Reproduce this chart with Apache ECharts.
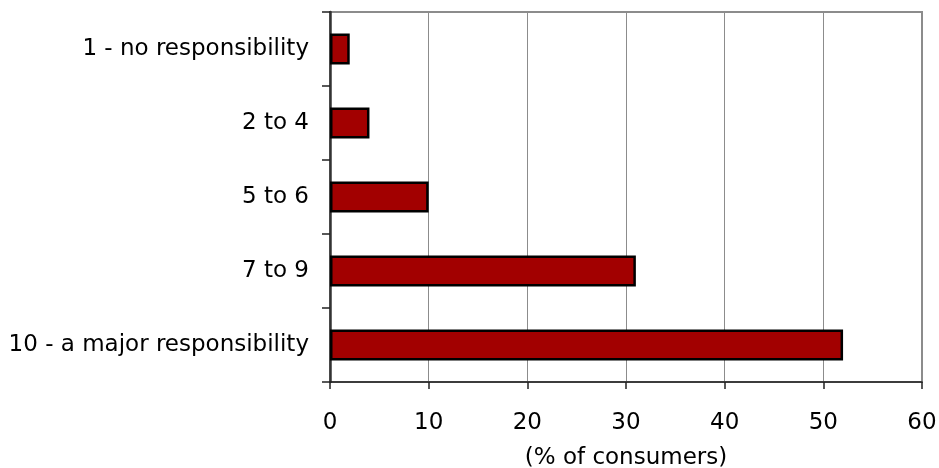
<!DOCTYPE html>
<html>
<head>
<meta charset="utf-8">
<script src="https://cdn.jsdelivr.net/npm/echarts@6/dist/echarts.min.js"></script>
<style>
html,body{margin:0;padding:0;background:#fff;}
#chart{width:939px;height:468px;}
</style>
</head>
<body>
<div id="chart"></div>
<script>
var categories = ['1 - no responsibility', '2 to 4', '5 to 6', '7 to 9', '10 - a major responsibility'];
var values = [2, 4, 10, 31, 52];
var xTickMin = 0, xTickMax = 60, xTickStep = 10;
var xAxisName = '(% of consumers)';

var FONT = 'DejaVu Sans';
var chart = echarts.init(document.getElementById('chart'), null, {renderer: 'canvas'});
chart.setOption({
  backgroundColor: '#ffffff',
  animation: false,
  grid: {
    left: 330, right: 17, top: 12, bottom: 86,
    containLabel: false,
    outerBoundsMode: 'none',
    show: true, borderColor: '#8c8c8c', borderWidth: 2, backgroundColor: 'transparent'
  },
  xAxis: {
    type: 'value',
    min: xTickMin, max: xTickMax, interval: xTickStep,
    name: xAxisName,
    nameLocation: 'middle',
    nameGap: 65,
    nameTextStyle: {fontFamily: FONT, fontSize: 23, color: '#000'},
    axisLine: {show: true, onZero: false, lineStyle: {color: '#222', width: 1.5}},
    axisTick: {show: true, inside: false, length: 7, lineStyle: {color: '#222', width: 1.5}},
    axisLabel: {fontFamily: FONT, fontSize: 23, color: '#000', margin: 30},
    splitLine: {show: true, lineStyle: {color: '#8c8c8c', width: 1}}
  },
  yAxis: {
    type: 'category',
    data: categories,
    inverse: true,
    axisLine: {show: true, lineStyle: {color: '#333', width: 2.5}},
    axisTick: {show: true, inside: false, length: 8, alignWithLabel: false, lineStyle: {color: '#222', width: 1.5}},
    axisLabel: {fontFamily: FONT, fontSize: 23, color: '#000', margin: 21},
    splitLine: {show: false}
  },
  series: [{
    type: 'bar',
    data: values,
    barWidth: '42%',
    itemStyle: {color: '#a20000', borderColor: '#000', borderWidth: 2.5},
    silent: true
  }]
});
</script>
</body>
</html>
